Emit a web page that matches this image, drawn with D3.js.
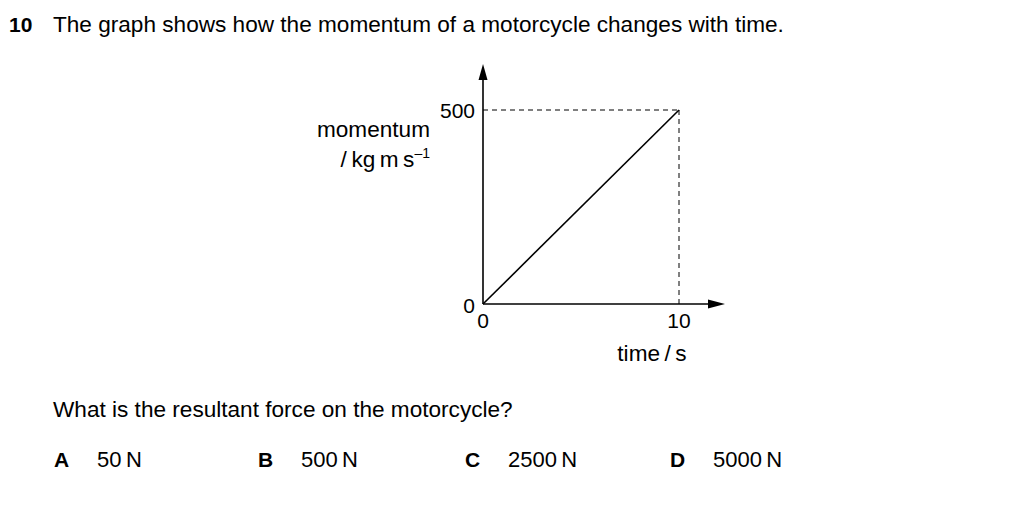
<!DOCTYPE html>
<html><head><meta charset="utf-8">
<script src="https://cdn.jsdelivr.net/npm/d3@7"></script>
<style>body{margin:0;background:#fff}svg{display:block}text{font-family:"Liberation Sans",Arial,sans-serif;fill:#000}</style>
</head><body>
<svg id="c" width="1024" height="512"></svg>
<script>
const times = [0, 10];
const momentum = [0, 500];
const xTicks = [0, 10];
const yTicks = [0, 500];
const options = [["A","50 N"],["B","500 N"],["C","2500 N"],["D","5000 N"]];
const optionX = [54, 258, 465, 670];

const svg = d3.select("#c");
const x = d3.scaleLinear().domain([0,10]).range([483,679]);
const y = d3.scaleLinear().domain([0,500]).range([304,110]);

// header
svg.append("text").attr("x",9).attr("y",32).attr("font-size",21).attr("font-weight","bold").text("10");
svg.append("text").attr("x",53).attr("y",32).attr("font-size",22.6).text("The graph shows how the momentum of a motorcycle changes with time.");

// dashed guides
svg.append("line").attr("x1",x(0)).attr("x2",x(10)).attr("y1",y(500)).attr("y2",y(500))
  .attr("stroke","#000").attr("stroke-width",1).attr("stroke-dasharray","5,4");
svg.append("line").attr("x1",x(10)).attr("x2",x(10)).attr("y1",y(500)).attr("y2",y(0))
  .attr("stroke","#000").attr("stroke-width",1).attr("stroke-dasharray","5,4");

// axes
svg.append("line").attr("x1",x(0)).attr("x2",x(0)).attr("y1",y(0)).attr("y2",78).attr("stroke","#000").attr("stroke-width",1.6);
svg.append("path").attr("d",`M${x(0)},64 L${x(0)-4.5},80 L${x(0)+4.5},80 Z`).attr("fill","#000");
svg.append("line").attr("x1",x(0)).attr("x2",710).attr("y1",y(0)).attr("y2",y(0)).attr("stroke","#000").attr("stroke-width",1.6);
svg.append("path").attr("d",`M725,${y(0)} L708,${y(0)-4.5} L708,${y(0)+4.5} Z`).attr("fill","#000");

// data line
const line = d3.line().x((d,i)=>x(times[i])).y((d,i)=>y(momentum[i]));
svg.append("path").datum(momentum).attr("d",line).attr("fill","none").attr("stroke","#000").attr("stroke-width",1.6);

// tick labels
svg.selectAll(".yt").data(yTicks).enter().append("text")
  .attr("x",475).attr("y",d=>d===0?y(d)+9:y(d)+8).attr("text-anchor","end").attr("font-size",21).text(d=>d);
svg.selectAll(".xt").data(xTicks).enter().append("text")
  .attr("x",d=>x(d)).attr("y",328).attr("text-anchor","middle").attr("font-size",21).text(d=>d);

// axis titles
svg.append("text").attr("x",430).attr("y",137).attr("text-anchor","end").attr("font-size",22.6).text("momentum");
const yl = svg.append("text").attr("x",430).attr("y",167).attr("text-anchor","end").attr("font-size",22.6);
yl.append("tspan").text("/\u2009kg\u2009m\u2009s");
yl.append("tspan").attr("dy",-9).attr("font-size",14).text("\u20131");
svg.append("text").attr("x",652).attr("y",361).attr("text-anchor","middle").attr("font-size",22.6).text("time\u2009/\u2009s");

// question
svg.append("text").attr("x",53).attr("y",417).attr("font-size",22.6).text("What is the resultant force on the motorcycle?");
const og = svg.selectAll(".opt").data(options).enter().append("g");
og.append("text").attr("x",(d,i)=>optionX[i]).attr("y",467).attr("font-size",21).attr("font-weight","bold").text(d=>d[0]);
og.append("text").attr("x",(d,i)=>optionX[i]+43).attr("y",467).attr("font-size",22).text(d=>d[1].replace(" ","\u2009"));
</script>
</body></html>
